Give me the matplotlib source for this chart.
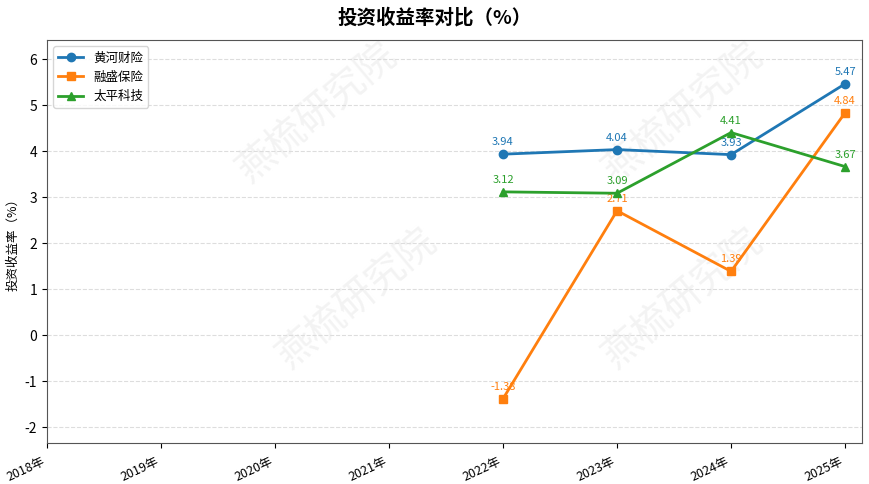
import matplotlib
matplotlib.use("Agg")
import matplotlib.pyplot as plt

plt.rcParams['font.family'] = ['Noto Sans CJK SC', 'DejaVu Sans']
plt.rcParams['axes.unicode_minus'] = False

years = ['2018年', '2019年', '2020年', '2021年', '2022年', '2023年', '2024年', '2025年']
data_years = ['2022年', '2023年', '2024年', '2025年']
huanghe = [3.94, 4.04, 3.93, 5.47]
rongsheng = [-1.38, 2.71, 1.39, 4.84]
taiping = [3.12, 3.09, 4.41, 3.67]

series = [
    ('黄河财险', huanghe, '#1f77b4', 'o'),
    ('融盛保险', rongsheng, '#ff7f0e', 's'),
    ('太平科技', taiping, '#2ca02c', '^'),
]

fig = plt.figure(figsize=(8.7, 4.84), dpi=100)
ax = fig.add_axes([0.054, 0.085, 0.937, 0.832])

# faint watermark behind the data
for wx, wy in [(0.33, 0.82), (0.78, 0.82), (0.38, 0.36), (0.78, 0.36)]:
    ax.text(wx, wy, '燕梳研究院', transform=ax.transAxes, fontsize=28, color='#f3f3f3',
            rotation=40, ha='center', va='center', zorder=0.5)

xpos = [years.index(y) for y in data_years]
for name, vals, color, marker in series:
    ax.plot(xpos, vals, color=color, marker=marker, markersize=6, linewidth=2, label=name, zorder=3)
    for x, v in zip(xpos, vals):
        ax.annotate(f'{v:.2f}', (x, v), xytext=(0, 5), textcoords='offset points',
                    ha='center', va='bottom', fontsize=8, color=color, zorder=2)

ax.set_xticks(range(len(years)))
ax.set_xticklabels(years, rotation=25, ha='right', fontsize=9)
ax.tick_params(axis='x', pad=5)
ax.set_xlim(0, 7.15)
ax.set_ylim(-2.34, 6.42)
ax.set_yticks(range(-2, 7))
ax.tick_params(axis='y', labelsize=10)
ax.yaxis.grid(True, linestyle='--', color='#dddddd', linewidth=0.8, zorder=1)
ax.set_axisbelow(True)
ax.set_ylabel('投资收益率（%）', fontsize=9)
for s in ax.spines.values():
    s.set_color('#555555')

ax.legend(loc='upper left', fontsize=9)
fig.suptitle('投资收益率对比（%）', fontsize=14, fontweight='bold', y=0.985)

fig.savefig('out.png', dpi=100)
